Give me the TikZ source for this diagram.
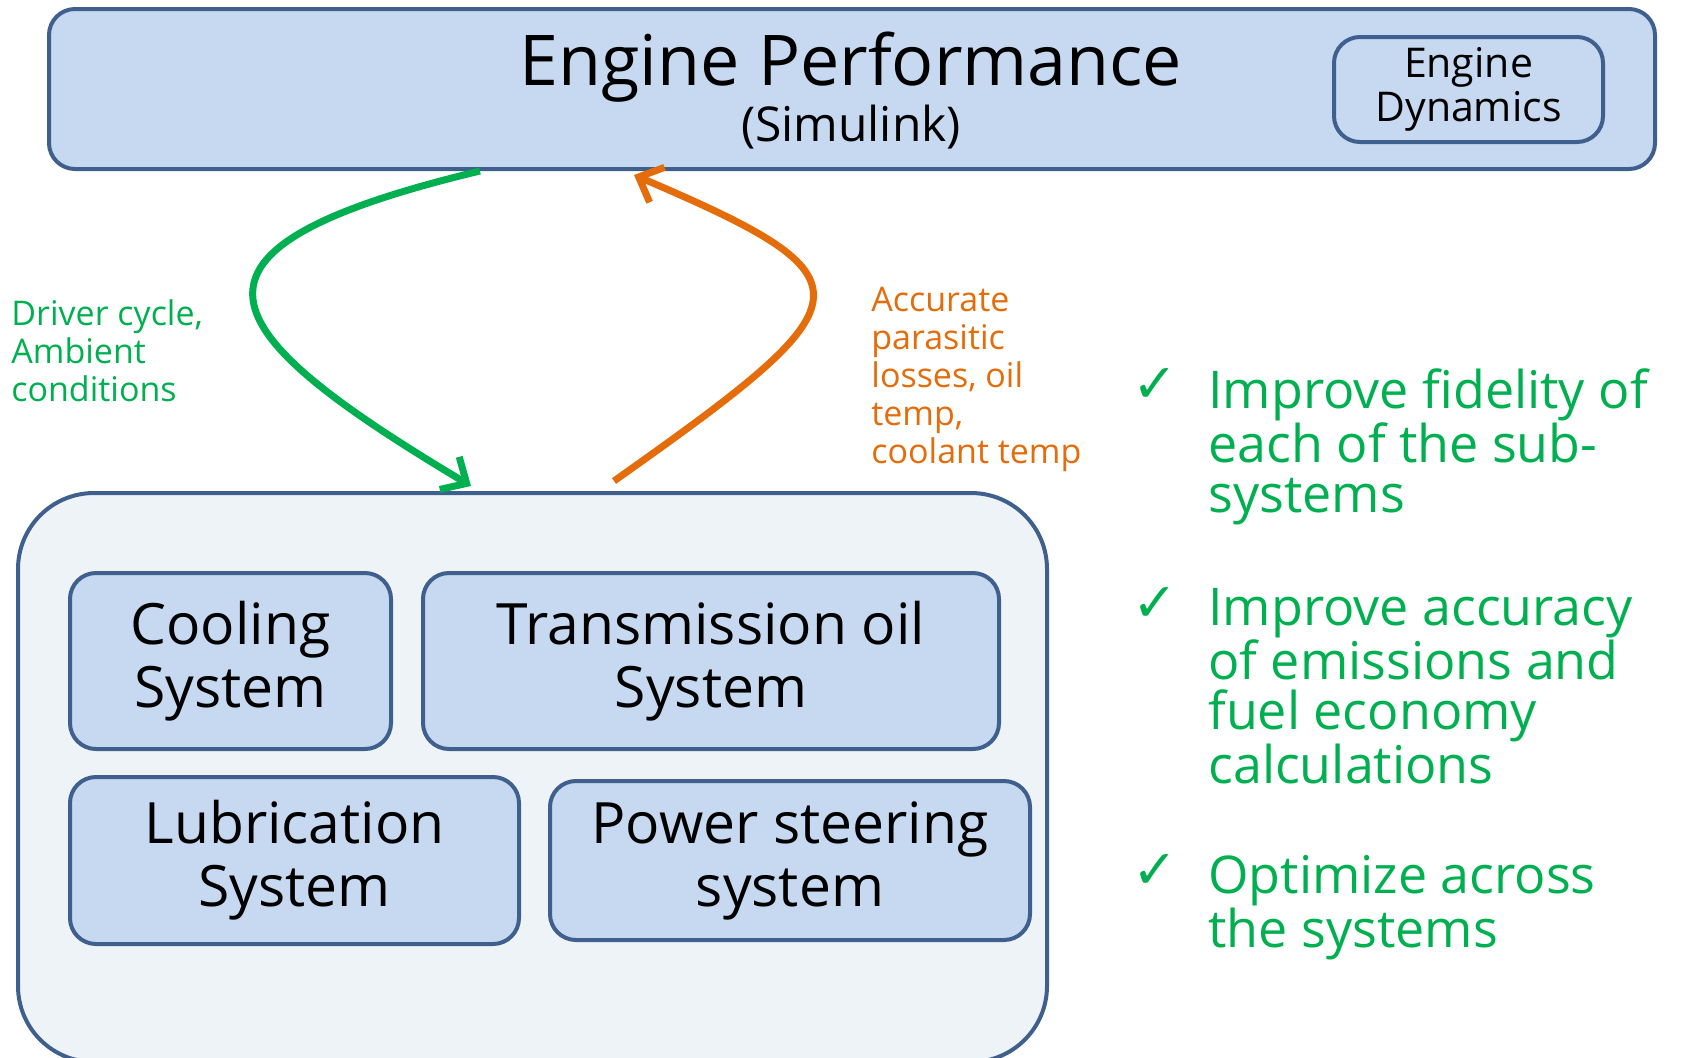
\documentclass[tikz,border=0pt]{standalone}
\usepackage{fontspec}
\setmainfont{Open Sans}
\newfontfamily\symfont{DejaVu Sans}
\usetikzlibrary{arrows.meta}
\definecolor{boxfill}{HTML}{C6D9F1}
\definecolor{boxline}{HTML}{3F5F8C}
\definecolor{bigfill}{HTML}{EEF3F8}
\definecolor{mygreen}{HTML}{00B050}
\definecolor{myorange}{HTML}{E46C0A}
\tikzset{
  blockbox/.style={draw=boxline, fill=boxfill, line width=2pt, rounded corners=13pt,
    inner sep=0pt, align=center},
  bigbox/.style={draw=boxline, fill=bigfill, line width=2pt, rounded corners=38pt, inner sep=0pt},
  subsys/.style={blockbox, font=\fontsize{28.5}{31.5}\selectfont},
  flow/.style={line width=3.5pt, -{Straight Barb[length=10pt,width=19pt]}},
  sidelabel/.style={anchor=north west, inner sep=0pt, align=left, font=\fontsize{17}{19}\selectfont},
  bullettext/.style={anchor=north west, inner sep=0pt, align=left, text=mygreen, font=\fontsize{26}{25}\selectfont},
  tick/.style={inner sep=0pt, text=mygreen, font=\symfont\fontsize{27}{27}\selectfont}
}
\begin{document}
\begin{tikzpicture}[x=0.5pt,y=-0.5pt]
\useasboundingbox (0,0) rectangle (1699,1057);
% top box
\node[blockbox, minimum width=803pt, minimum height=80pt] (top) at (852,89) {};
\node[anchor=base, inner sep=0pt, font=\fontsize{35}{38}\selectfont] (title) at (851,85) {Engine Performance};
\node[anchor=base, inner sep=0pt, font=\fontsize{24}{26}\selectfont] (sim) at (851,141) {(Simulink)};
\node[blockbox, minimum width=134.5pt, minimum height=52.5pt, font=\fontsize{20.5}{22}\selectfont] (dyn) at (1468.5,89.5) {Engine\\Dynamics};
% bottom big box
\node[bigbox, minimum width=514.5pt, minimum height=284.5pt] (big) at (532.5,777.5) {};
\node[subsys, minimum width=160.5pt, minimum height=88pt] (cool) at (230.5,661) {Cooling\\System};
\node[subsys, minimum width=288pt, minimum height=88pt] (trans) at (711,661) {Transmission oil\\System};
\node[subsys, minimum width=224.5pt, minimum height=83.5pt] (lub) at (294.5,860.5) {Lubrication\\System};
\node[subsys, minimum width=240pt, minimum height=79.5pt] (pow) at (790,860.5) {Power steering\\system};
% arrows
\coordinate (gs) at (480,171);
\coordinate (ge) at (471,486);
\coordinate (os) at (614,481);
\coordinate (oe) at (634,175);
\draw[flow, mygreen] (gs) .. controls (150,250) and (210,330) .. (ge);
\draw[flow, myorange] (os) .. controls (870,300) and (880,280) .. (oe);
% labels
\node[sidelabel, text=mygreen] (glab) at (11,299) {Driver cycle,\\Ambient\\conditions};
\node[sidelabel, text=myorange] (olab) at (871,287) {Accurate\\parasitic\\losses, oil\\temp,\\coolant temp};
% bullets
\node[tick] (t1) at (1155,385) {✓};
\node[tick] (t2) at (1155,604) {✓};
\node[tick] (t3) at (1155,871) {✓};
\node[bullettext] (b1) at (1208,368) {Improve fidelity of\\each of the sub-\\systems};
\node[bullettext] (b2) at (1208,588) {Improve accuracy\\of emissions and\\fuel economy\\calculations};
\node[bullettext] (b3) at (1208,855) {Optimize across\\the systems};
\end{tikzpicture}
\end{document}
